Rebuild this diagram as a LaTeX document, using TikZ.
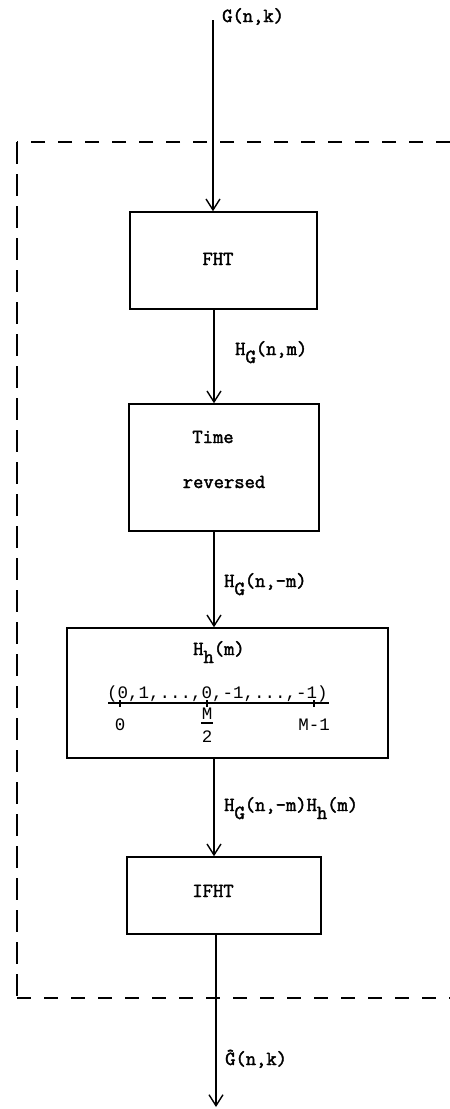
\documentclass[tikz,border=0pt]{standalone}
\usepackage{fontspec}
\setmonofont{Latin Modern Mono}[LetterSpace=0, FakeBold=2]
\newfontfamily\axisfont{Liberation Mono}
\usetikzlibrary{arrows.meta}
\newcommand\twfont{\ttfamily\fontsize{20}{23}\selectfont}
\newcommand\axfont{\axisfont\fontsize{17.5}{19}\selectfont}
\newcommand\lowered[1]{\raisebox{-8pt}{#1}}
\begin{document}
\begin{tikzpicture}[x=1pt,y=-1pt,
  every node/.style={inner sep=0pt, font=\twfont},
  blockbox/.style={draw, line width=1.5pt, rectangle, inner sep=0pt},
  wire/.style={line width=1.4pt},
  flow/.style={wire, -{Straight Barb[length=11pt,width=14pt,line width=1.4pt]}},
  frame/.style={line width=1.4pt, dash pattern=on 14pt off 13pt},
  frameside/.style={line width=1.4pt, dash pattern=on 22pt off 10pt},
  axis/.style={line width=1.3pt}]
\useasboundingbox (0,0) rectangle (450,1109);

% dashed enclosure (open on the right)
\coordinate (ftl) at (17,142);
\coordinate (fbl) at (17,998);
\coordinate (ftr) at (450,142);
\coordinate (fbr) at (450,998);
\draw[frame] (ftr) -- (ftl);
\draw[frameside] (ftl) -- (fbl);
\draw[frame] (fbl) -- (fbr);

% processing blocks
\node[blockbox, minimum width=187pt, minimum height=97pt] (fht) at (223.5,260.5) {};
\node[blockbox, minimum width=190pt, minimum height=127pt] (trev) at (224,467.5) {};
\node[blockbox, minimum width=321pt, minimum height=130pt] (hh) at (227.5,693) {};
\node[blockbox, minimum width=194pt, minimum height=77pt] (ifht) at (224,895.5) {};

% block texts
\node[anchor=base] (tfht) at (218,265) {FHT};
\node[anchor=base] (ttime) at (213,443) {Time};
\node[anchor=base] (trevd) at (224,488) {reversed};
\node[anchor=base] (tifht) at (213,897) {IFHT};

% filter response inside the multiplier block
\node[anchor=base west] (thm) at (193,655) {H\lowered{h}(m)};
\node[anchor=base west, font=\axfont] (seq) at (107,698) {(0,1,...,0,-1,...,-1)};
\coordinate (axl) at (108,703);
\coordinate (axr) at (329,703);
\draw[axis] (axl) -- (axr);
\foreach \tx in {120,207,314} \draw[axis] (\tx,700) -- (\tx,706.5);
\node[anchor=base, font=\axfont] (lz) at (120,730) {0};
\node[anchor=base, font=\axfont] (lmn) at (207,719) {M};
\node[anchor=base, font=\axfont] (lmd) at (207,742) {2};
\coordinate (fbl1) at (201,723);
\coordinate (fbr1) at (213,723);
\draw[axis] (fbl1) -- (fbr1);
\node[anchor=base, font=\axfont] (lm1) at (314,730) {M-1};

% signal path
\coordinate (src) at (213,20);
\coordinate (sink) at (216,1107);
\coordinate (mid) at (214,0);
\coordinate (low) at (216,0);
\draw[flow] (src) -- (fht.north -| src);
\draw[flow] (fht.south -| mid) -- (trev.north -| mid);
\draw[flow] (trev.south -| mid) -- (hh.north -| mid);
\draw[flow] (hh.south -| mid) -- (ifht.north -| mid);
\draw[flow] (ifht.south -| low) -- (sink);

% signal labels
\node[anchor=base west] (lin) at (222,22) {G(n,k)};
\node[anchor=base west] (l1) at (235,355) {H\lowered{G}(n,m)};
\node[anchor=base west] (l2) at (224,587) {H\lowered{G}(n,-m)};
\node[anchor=base west] (l3) at (224,811) {H\lowered{G}(n,-m)H\lowered{h}(m)};
\node[anchor=base west] (lout) at (225,1065) {\^G(n,k)};
\end{tikzpicture}
\end{document}
